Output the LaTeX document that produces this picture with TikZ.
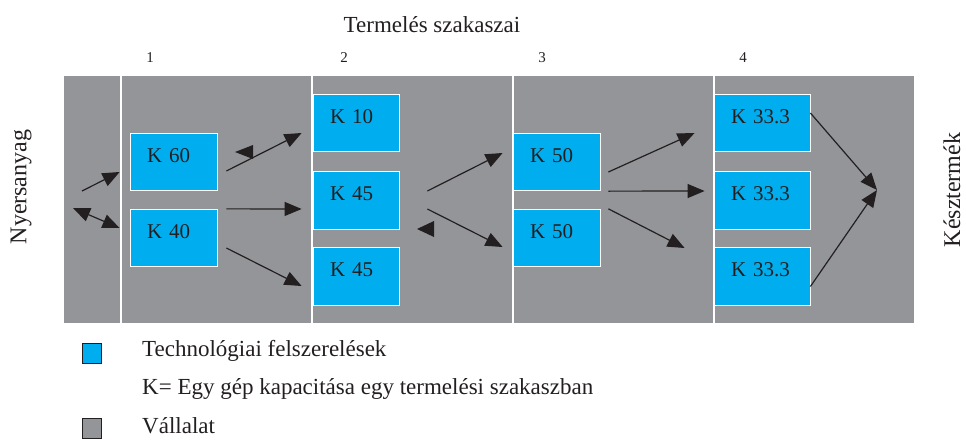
\documentclass[tikz,border=0pt]{standalone}
\usepackage{fontspec}
\setmainfont{Liberation Serif}
\usepackage{tikz}
\usetikzlibrary{arrows.meta}
\definecolor{myfirmcolor}{HTML}{939598}
\definecolor{mymachinecolor}{HTML}{00AEEF}
\definecolor{myinkcolor}{HTML}{231F20}
\tikzset{
  kbox/.style={draw=white, line width=0.8pt, fill=mymachinecolor, rectangle, inner xsep=17pt, inner ysep=0pt, text width=#1, text height=29pt, text depth=28.5pt, align=left, text=myinkcolor, font=\fontsize{21pt}{21pt}\selectfont},
  flow/.style={draw=myinkcolor, line width=1.2pt, -{Triangle[length=17pt, width=14pt]}},
  divider/.style={draw=white, line width=1.5pt},
  legbox/.style={draw=myinkcolor, line width=0.8pt, rectangle, minimum width=19pt, minimum height=20pt, inner sep=0pt},
  plaintext/.style={text=myinkcolor, inner sep=0pt}
}

\begin{document}
\begin{tikzpicture}[x=1pt, y=-1pt]%
\useasboundingbox (0,0) rectangle (966,439);%
% firm area and stage borders
\fill[myfirmcolor] (64,76) rectangle (914,323);%
\foreach \xdiv in {121,312,513,714} {\draw[divider] (\xdiv,76) -- (\xdiv,323);}%
% headings
\node[plaintext, anchor=base] (title) at (432,32) {\fontsize{23pt}{23pt}\selectfont Termelés szakaszai};%
\node[plaintext, anchor=base] (s1) at (150,62) {\fontsize{15pt}{15pt}\selectfont 1};%
\node[plaintext, anchor=base] (s2) at (344,62) {\fontsize{15pt}{15pt}\selectfont 2};%
\node[plaintext, anchor=base] (s3) at (542,62) {\fontsize{15pt}{15pt}\selectfont 3};%
\node[plaintext, anchor=base] (s4) at (743,62) {\fontsize{15pt}{15pt}\selectfont 4};%
\node[plaintext, rotate=90] (raw) at (21,187) {\fontsize{24pt}{24pt}\selectfont Nyersanyag};%
\node[plaintext, rotate=90] (product) at (952,190) {\fontsize{24pt}{24pt}\selectfont Késztermék};%
% machines
\node[kbox=53pt] (k60) at (173.5,162) {K 60};%
\node[kbox=53pt] (k40) at (173.5,238) {K 40};%
\node[kbox=52pt] (k10) at (356,123) {K 10};%
\node[kbox=52pt] (k45a) at (356,200.5) {K 45};%
\node[kbox=52pt] (k45b) at (356,276.5) {K 45};%
\node[kbox=53pt] (k50a) at (556.5,162) {K 50};%
\node[kbox=53pt] (k50b) at (556.5,238) {K 50};%
\node[kbox=62pt] (k33a) at (762,123) {K 33.3};%
\node[kbox=62pt] (k33b) at (762,200.5) {K 33.3};%
\node[kbox=62pt] (k33c) at (762,276.5) {K 33.3};%
\coordinate (rawin) at (82,191);%
\coordinate (rawback) at (73,208);%
\coordinate (outpt) at (877,190);%
% flows
\draw[flow] (rawin) -- ([xshift=-10pt, yshift=-10pt]k60.west);%
\draw[flow, {Triangle[length=17pt, width=14pt]}-{Triangle[length=17pt, width=14pt]}] (rawback) -- ([xshift=-10pt, yshift=10pt]k40.west);%
\draw[flow] ([xshift=9pt, yshift=-9pt]k60.east) -- ([xshift=-11pt, yshift=-10pt]k10.west);%
\fill[myinkcolor] (235,152) -- (253,145) -- (253,159) -- cycle;%
\draw[flow] ([xshift=9pt]k40.north east) -- ([xshift=-11pt, yshift=-8.5pt]k45a.west);%
\draw[flow] ([xshift=9pt, yshift=-10pt]k40.east) -- ([xshift=-11pt, yshift=-9.5pt]k45b.west);%
\draw[flow] ([xshift=28pt, yshift=9.5pt]k45a.east) -- ([xshift=-10pt, yshift=9pt]k50a.west);%
\draw[flow] ([xshift=28pt, yshift=-8.5pt]k45a.east) -- ([xshift=-10pt, yshift=-9pt]k50b.west);%
\fill[myinkcolor] (417,229) -- (434,221) -- (434,237) -- cycle;%
\draw[flow] ([xshift=8pt, yshift=-10pt]k50a.east) -- ([xshift=-19pt, yshift=-10pt]k33a.west);%
\draw[flow] ([xshift=8pt]k50a.south east) -- ([xshift=-9pt, yshift=9.5pt]k33b.west);%
\draw[flow] ([xshift=8pt]k50b.north east) -- ([xshift=-29pt, yshift=28.5pt]k33c.west);%
\draw[flow] ([yshift=10pt]k33a.east) -- (outpt);%
\draw[flow] ([yshift=-10pt]k33c.east) -- (outpt);%
% legend
\node[legbox, fill=mymachinecolor] (legmachine) at (91.5,353) {};%
\node[plaintext, anchor=base west] (legmachinetext) at (142,356) {\fontsize{23pt}{23pt}\selectfont Technológiai felszerelések};%
\node[plaintext, anchor=base west] (legk) at (142,394) {\fontsize{23pt}{23pt}\selectfont K= Egy gép kapacitása egy termelési szakaszban};%
\node[legbox, fill=myfirmcolor] (legfirm) at (91.5,428) {};%
\node[plaintext, anchor=base west] (legfirmtext) at (142,433) {\fontsize{23pt}{23pt}\selectfont Vállalat};%
\end{tikzpicture}
\end{document}
